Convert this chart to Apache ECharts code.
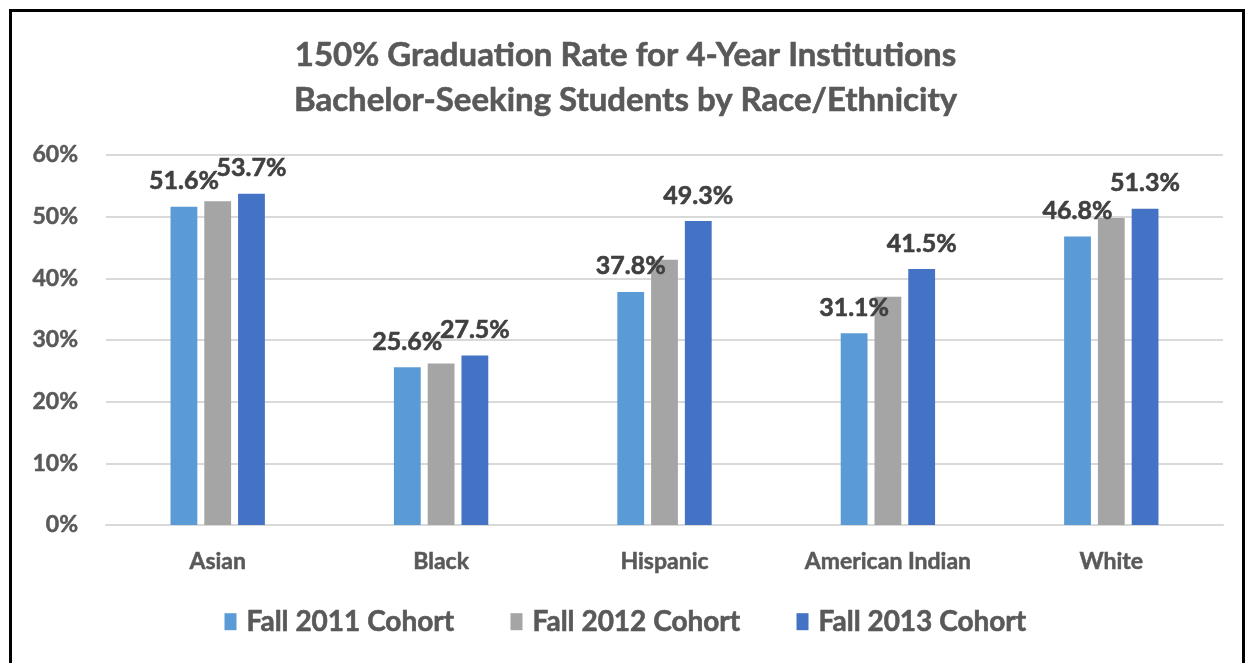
<!DOCTYPE html>
<html>
<head>
<meta charset="utf-8">
<script src="https://cdn.jsdelivr.net/npm/echarts@6/dist/echarts.min.js"></script>
<style>
html,body{margin:0;padding:0;background:#fff;}
#frame{position:absolute;left:9px;top:9px;width:1236px;height:700px;border:3px solid #000;box-sizing:border-box;}
#chart{position:absolute;left:0;top:0;width:1251px;height:663px;}
</style>
</head>
<body>
<div id="frame"></div>
<div id="chart"></div>
<script>
const categories = ['Asian', 'Black', 'Hispanic', 'American Indian', 'White'];
const seriesNames = ['Fall 2011 Cohort', 'Fall 2012 Cohort', 'Fall 2013 Cohort'];
const fall2011 = [51.6, 25.6, 37.8, 31.1, 46.8];
const fall2012 = [52.5, 26.2, 43.0, 37.0, 49.8];
const fall2013 = [53.7, 27.5, 49.3, 41.5, 51.3];
const yTicks = [0, 10, 20, 30, 40, 50, 60];
const titleLines = ['150% Graduation Rate for 4-Year Institutions', 'Bachelor-Seeking Students by Race/Ethnicity'];

const colors = ['#5B9BD5', '#A5A5A5', '#4472C4'];
const FONT = 'Lato';
const WEIGHT = 'bold';

const chart = echarts.init(document.getElementById('chart'), null, {renderer: 'canvas'});
function bar(name, data, color, showLabel) {
  return {
    name: name,
    type: 'bar',
    data: data,
    barWidth: '12%',
    barGap: '26%',
    itemStyle: {color: color},
    label: {
      show: showLabel,
      position: 'top',
      distance: 13,
      formatter: p => p.value.toFixed(1) + '%',
      fontFamily: FONT,
      fontWeight: WEIGHT,
      fontSize: 25,
      color: '#404040',
      textBorderColor: '#404040',
      textBorderWidth: 0.6
    }
  };
}
chart.setOption({
  animation: false,
  title: {
    text: titleLines.join('\n'),
    left: 'center',
    top: 28,
    textStyle: {fontFamily: FONT, fontWeight: WEIGHT, fontSize: 33, color: '#595959', lineHeight: 45,
      textBorderColor: '#595959', textBorderWidth: 0.6}
  },
  legend: {
    data: seriesNames,
    bottom: 22,
    left: 'center',
    itemWidth: 12,
    itemHeight: 17,
    itemGap: 56,
    icon: 'rect',
    textStyle: {fontFamily: FONT, fontWeight: WEIGHT, fontSize: 28, color: '#595959', padding: [0, 0, 0, 5],
      textBorderColor: '#595959', textBorderWidth: 0.6}
  },
  grid: {left: 106, right: 28, top: 155, bottom: 138, containLabel: false},
  xAxis: {
    type: 'category',
    data: categories,
    axisLine: {show: true, lineStyle: {color: '#D9D9D9', width: 2}},
    axisTick: {show: false},
    axisLabel: {fontFamily: FONT, fontWeight: WEIGHT, fontSize: 23, color: '#595959', margin: 25,
      textBorderColor: '#595959', textBorderWidth: 0.5}
  },
  yAxis: {
    type: 'value',
    min: yTicks[0],
    max: yTicks[yTicks.length - 1],
    interval: 10,
    axisLine: {show: false},
    axisTick: {show: false},
    splitLine: {lineStyle: {color: '#D9D9D9', width: 2}},
    axisLabel: {formatter: v => v + '%', fontFamily: FONT, fontWeight: WEIGHT, fontSize: 23, color: '#595959', margin: 28,
      textBorderColor: '#595959', textBorderWidth: 0.5}
  },
  series: [
    bar(seriesNames[0], fall2011, colors[0], true),
    bar(seriesNames[1], fall2012, colors[1], false),
    bar(seriesNames[2], fall2013, colors[2], true)
  ]
});
</script>
</body>
</html>
